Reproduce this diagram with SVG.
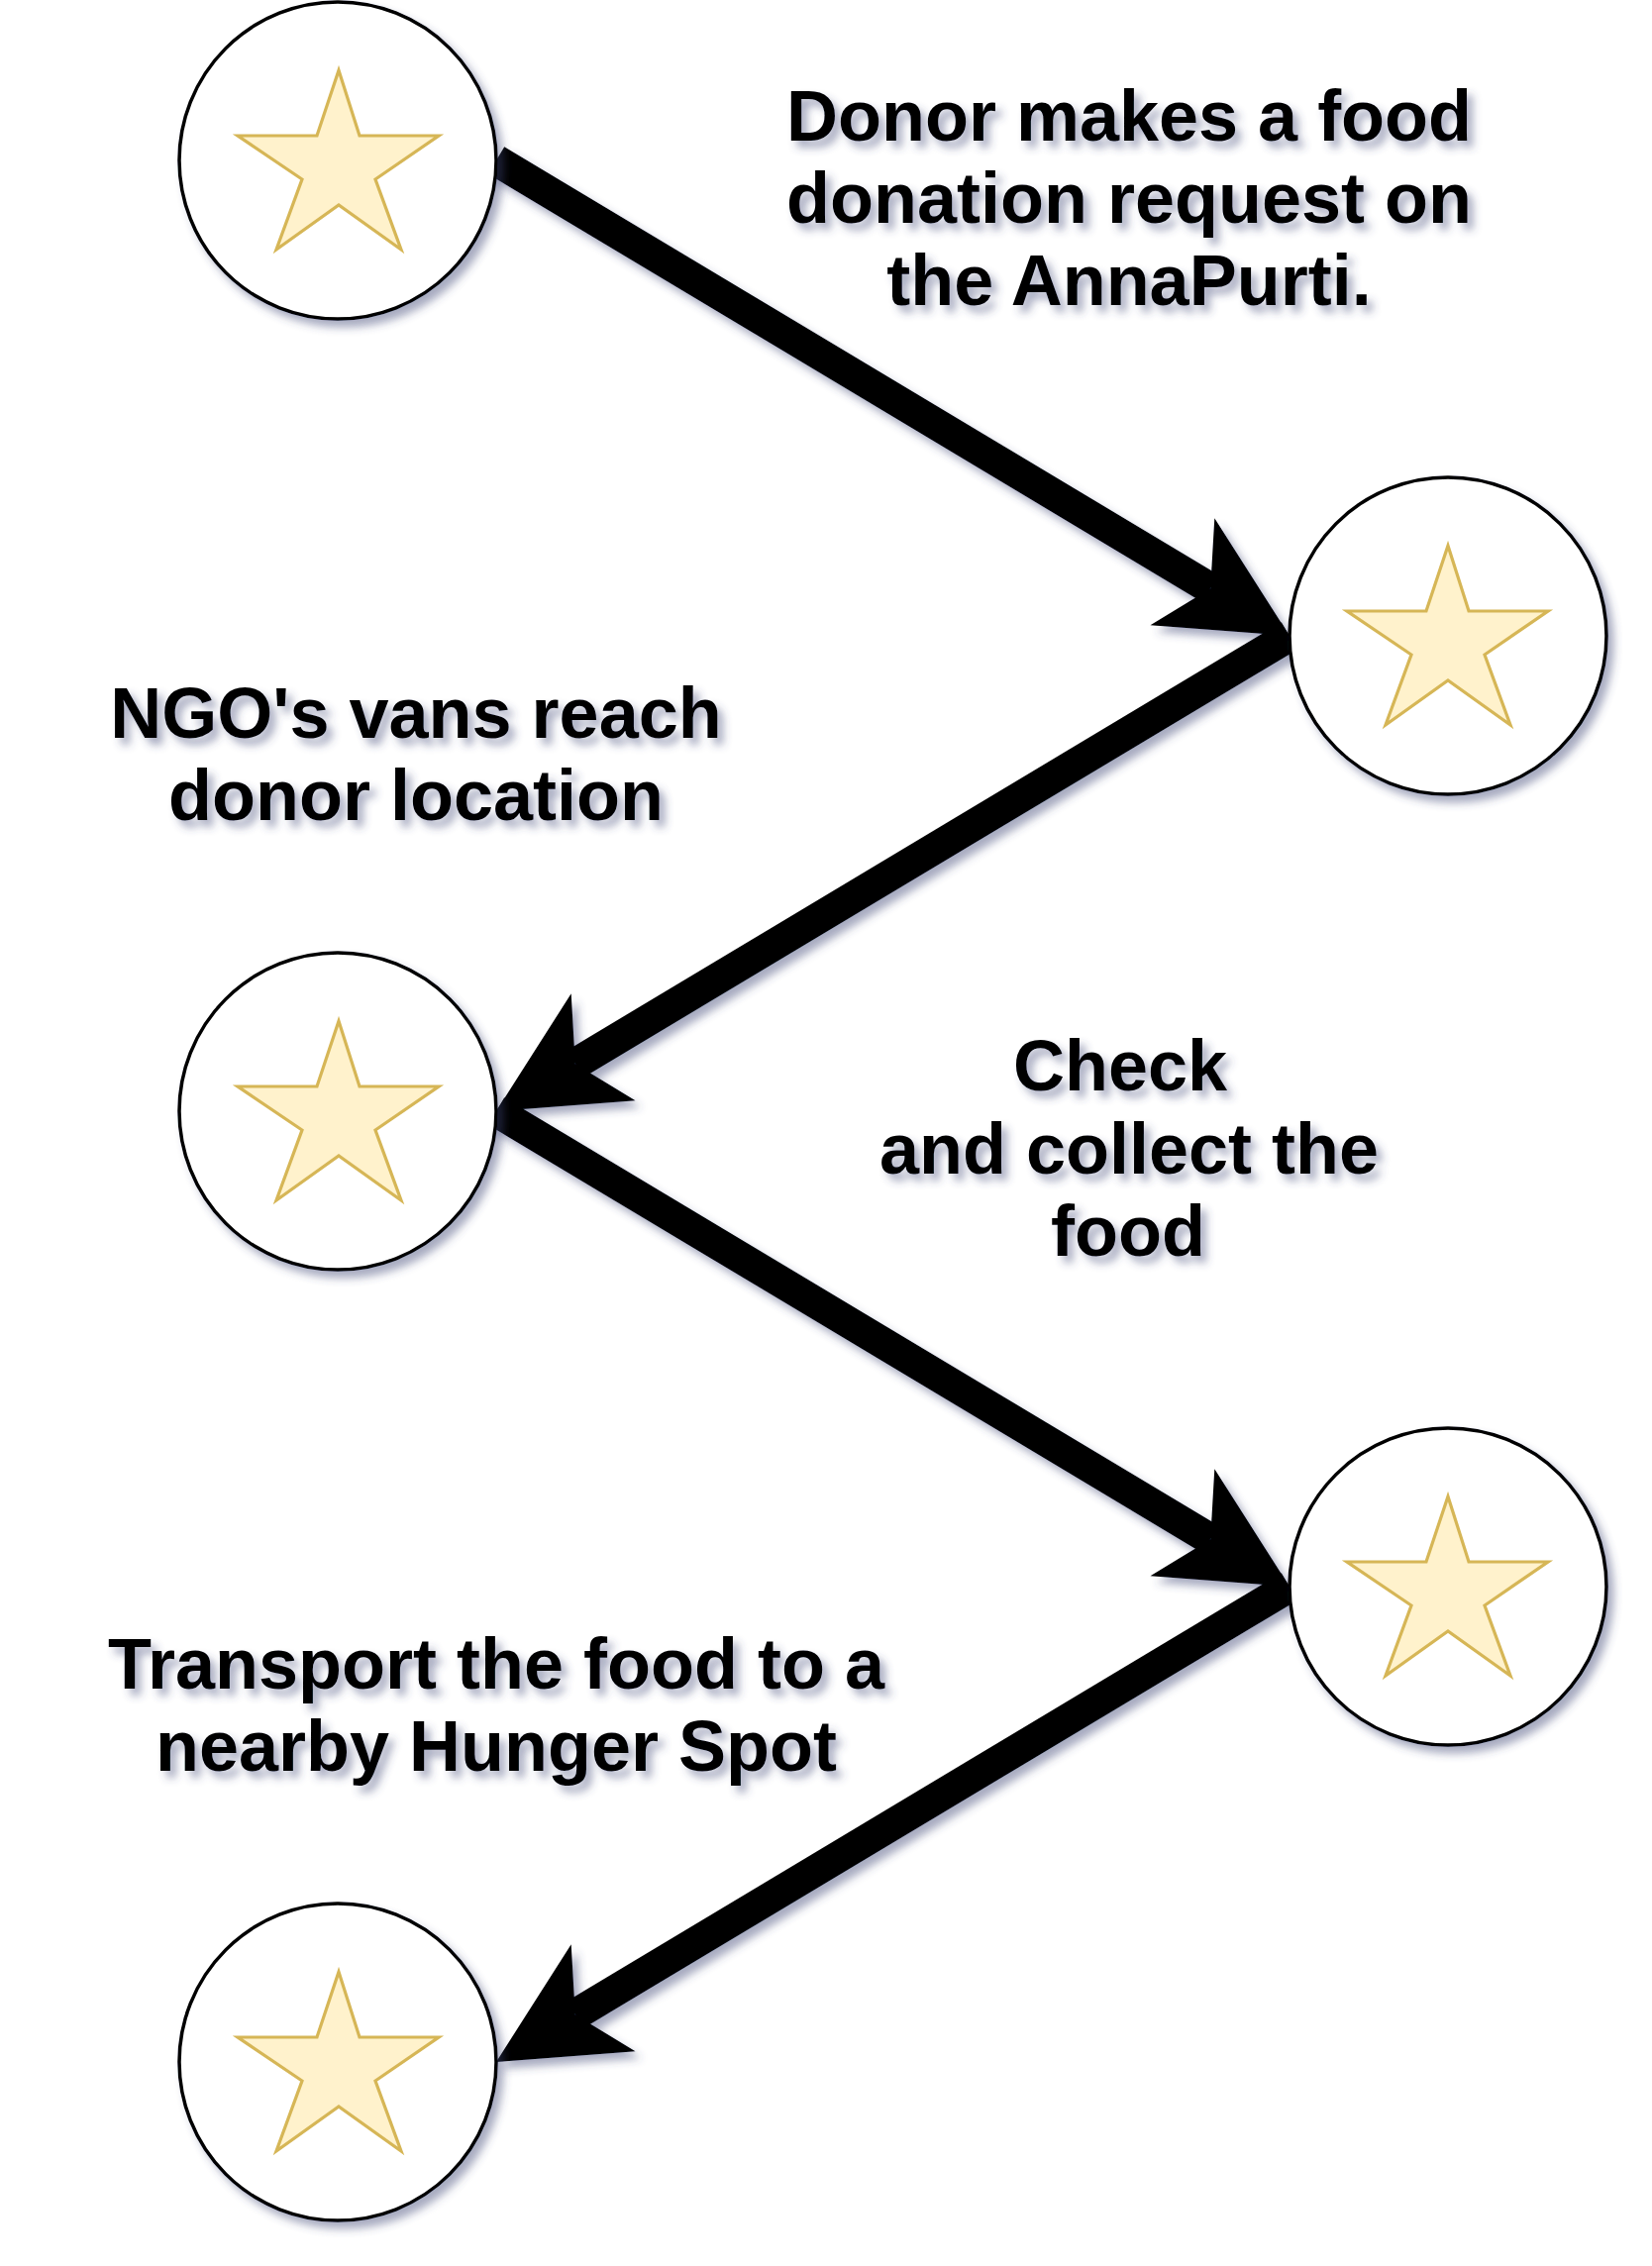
<svg xmlns="http://www.w3.org/2000/svg" xmlns:xlink="http://www.w3.org/1999/xlink" width="1668" height="2288" viewBox="0 0 1668 2288">
<style>
.circ{fill:#ffffff;stroke:#000000;stroke-width:3.5}
.star{fill:#fff2cc;stroke:#d6b656;stroke-width:3.2;stroke-linejoin:miter}
.line{stroke:#000000;stroke-width:32;fill:none;stroke-linecap:butt}
.head{fill:#000000;stroke:none}
.lbl{font-family:"Liberation Sans",Arial,Helvetica,sans-serif;font-weight:bold;font-size:72px;fill:#000000;text-anchor:middle}
</style>
<defs>
<filter id="shadow" x="-20%" y="-20%" width="150%" height="150%">
<feGaussianBlur in="SourceAlpha" stdDeviation="4.5"/>
<feOffset dx="6" dy="7" result="b"/>
<feFlood flood-color="#3D4574" flood-opacity="0.45"/>
<feComposite in2="b" operator="in" result="s"/>
<feMerge><feMergeNode in="s"/><feMergeNode in="SourceGraphic"/></feMerge>
</filter>
<polygon id="starShape" class="star" points="1,-91 22,-25 102,-25 38,19 64,90 1,45 -62,90 -36,19 -101,-25 -21,-25"/>
</defs>
<rect width="1668" height="2288" fill="#ffffff"/>
<g id="connectors" filter="url(#shadow)">
<g id="edge1">
<line class="line" x1="501" y1="162" x2="1222.2" y2="594.2"/>
<polygon class="head" points="1302,642 1226.3,523.2 1222.2,594.2 1161.5,631.3"/>
</g>
<g id="edge2">
<line class="line" x1="1302" y1="642" x2="580.8" y2="1074.2"/>
<polygon class="head" points="501,1122 576.7,1003.2 580.8,1074.2 641.5,1111.3"/>
</g>
<g id="edge3">
<line class="line" x1="501" y1="1122" x2="1222.2" y2="1554.2"/>
<polygon class="head" points="1302,1602 1226.3,1483.2 1222.2,1554.2 1161.5,1591.3"/>
</g>
<g id="edge4">
<line class="line" x1="1302" y1="1602" x2="580.8" y2="2034.2"/>
<polygon class="head" points="501,2082 576.7,1963.2 580.8,2034.2 641.5,2071.3"/>
</g>
</g>
<g id="node1" filter="url(#shadow)">
<circle class="circ" cx="341" cy="162" r="160"/>
<use xlink:href="#starShape" href="#starShape" x="341" y="162"/>
</g>
<g id="node2" filter="url(#shadow)">
<circle class="circ" cx="1462" cy="642" r="160"/>
<use xlink:href="#starShape" href="#starShape" x="1461" y="642"/>
</g>
<g id="node3" filter="url(#shadow)">
<circle class="circ" cx="341" cy="1122" r="160"/>
<use xlink:href="#starShape" href="#starShape" x="341" y="1122"/>
</g>
<g id="node4" filter="url(#shadow)">
<circle class="circ" cx="1462" cy="1602" r="160"/>
<use xlink:href="#starShape" href="#starShape" x="1461" y="1602"/>
</g>
<g id="node5" filter="url(#shadow)">
<circle class="circ" cx="341" cy="2082" r="160"/>
<use xlink:href="#starShape" href="#starShape" x="341" y="2082"/>
</g>
<g id="label1" filter="url(#shadow)">
<text class="lbl" x="1140" y="142">Donor makes a food</text>
<text class="lbl" x="1140" y="225">donation request on</text>
<text class="lbl" x="1140" y="308">the AnnaPurti.</text>
</g>
<g id="label2" filter="url(#shadow)">
<text class="lbl" x="420" y="745">NGO's vans reach</text>
<text class="lbl" x="420" y="828">donor location</text>
</g>
<g id="label3" filter="url(#shadow)">
<text class="lbl" x="1131" y="1101">Check</text>
<text class="lbl" x="1140" y="1185">and collect the</text>
<text class="lbl" x="1139" y="1268">food</text>
</g>
<g id="label4" filter="url(#shadow)">
<text class="lbl" x="501" y="1705">Transport the food to a</text>
<text class="lbl" x="501" y="1788">nearby Hunger Spot</text>
</g>
</svg>
